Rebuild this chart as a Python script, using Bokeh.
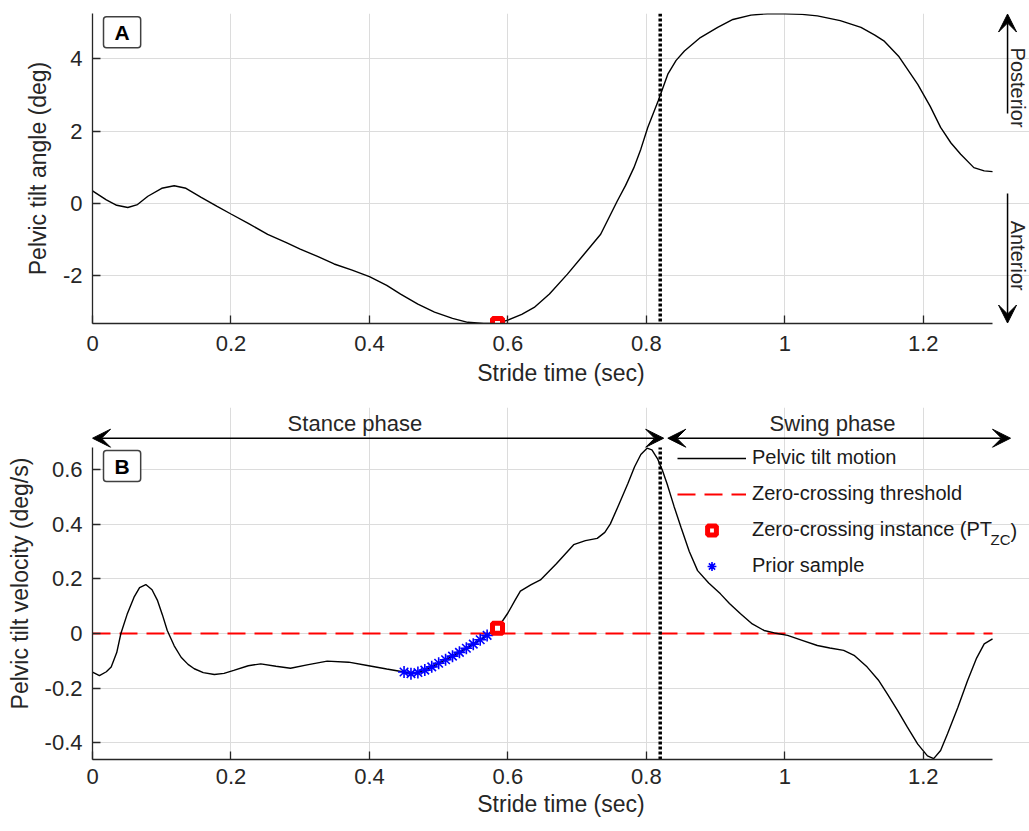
from bokeh.plotting import figure
from bokeh.layouts import column
from bokeh.models import (FixedTicker, NumeralTickFormatter, Span, Label, Arrow,
                          VeeHead, Legend, LegendItem)
from bokeh.embed import file_html
from bokeh.resources import INLINE
import math

FONT = "Liberation Sans"
AX = "#262626"
GRID = "#dcdcdc"

# ---------------- data ----------------
x_ticks = [0, 0.2, 0.4, 0.6, 0.8, 1.0, 1.2]
angle_ticks = [-2, 0, 2, 4]
vel_ticks = [-0.4, -0.2, 0, 0.2, 0.4, 0.6]
x_limits = [0.0, 1.3]
angle_limits = [-3.313, 5.245]
vel_limits = [-0.4611, 0.6805]

angle_t = [0.000, 0.020, 0.035, 0.051, 0.065, 0.080, 0.100, 0.118, 0.135, 0.157,
           0.180, 0.200, 0.225, 0.253, 0.280, 0.300, 0.325, 0.349, 0.375, 0.400,
           0.425, 0.445, 0.470, 0.494, 0.520, 0.542, 0.565, 0.583, 0.600, 0.620,
           0.638, 0.660, 0.686, 0.710, 0.734, 0.758, 0.770, 0.782, 0.792, 0.802,
           0.817, 0.831, 0.843, 0.855, 0.878, 0.903, 0.925, 0.951, 0.975, 1.000,
           1.025, 1.047, 1.080, 1.110, 1.130, 1.143, 1.165, 1.192, 1.210, 1.225,
           1.240, 1.254, 1.273, 1.288, 1.300]
angle_deg = [0.35, 0.10, -0.05, -0.11, -0.03, 0.20, 0.42, 0.49, 0.42, 0.17,
             -0.08, -0.29, -0.55, -0.85, -1.08, -1.26, -1.46, -1.67, -1.84, -2.02,
             -2.26, -2.50, -2.78, -3.00, -3.17, -3.28, -3.31, -3.31, -3.22, -3.06,
             -2.87, -2.50, -1.95, -1.40, -0.85, 0.07, 0.50, 0.99, 1.50, 2.10,
             2.83, 3.57, 3.95, 4.21, 4.58, 4.86, 5.08, 5.20, 5.24, 5.24,
             5.22, 5.18, 5.05, 4.86, 4.65, 4.49, 4.05, 3.29, 2.68, 2.10,
             1.67, 1.36, 0.99, 0.90, 0.88]

vel_t = [0.000, 0.010, 0.020, 0.027, 0.035, 0.041, 0.050, 0.060, 0.068, 0.077,
         0.086, 0.094, 0.101, 0.108, 0.118, 0.128, 0.138, 0.147, 0.160, 0.176,
         0.190, 0.204, 0.225, 0.243, 0.265, 0.286, 0.310, 0.339, 0.370, 0.397,
         0.425, 0.450, 0.460, 0.470, 0.480, 0.490, 0.500, 0.510, 0.520, 0.530,
         0.540, 0.550, 0.560, 0.570, 0.585, 0.600, 0.610, 0.618, 0.633, 0.647,
         0.670, 0.695, 0.712, 0.729, 0.740, 0.748, 0.760, 0.773, 0.783, 0.792,
         0.801, 0.808, 0.816, 0.823, 0.830, 0.840, 0.850, 0.862, 0.874, 0.890,
         0.907, 0.920, 0.936, 0.953, 0.970, 0.985, 1.004, 1.025, 1.047, 1.065,
         1.085, 1.100, 1.119, 1.135, 1.148, 1.163, 1.177, 1.192, 1.206, 1.215,
         1.225, 1.235, 1.250, 1.264, 1.277, 1.288, 1.300]
vel_dps = [-0.141, -0.154, -0.140, -0.123, -0.070, 0.000, 0.070, 0.133, 0.168, 0.179,
           0.160, 0.120, 0.068, 0.011, -0.045, -0.087, -0.113, -0.129, -0.143, -0.150,
           -0.146, -0.135, -0.118, -0.111, -0.120, -0.127, -0.115, -0.101, -0.105, -0.117,
           -0.130, -0.141, -0.147, -0.143, -0.134, -0.122, -0.109, -0.096, -0.083, -0.069,
           -0.054, -0.039, -0.023, -0.007, 0.019, 0.075, 0.120, 0.155, 0.178, 0.196,
           0.255, 0.325, 0.340, 0.348, 0.370, 0.401, 0.470, 0.547, 0.610, 0.655,
           0.678, 0.672, 0.640, 0.598, 0.547, 0.465, 0.389, 0.300, 0.230, 0.185,
           0.145, 0.110, 0.072, 0.035, 0.011, 0.002, -0.007, -0.025, -0.044, -0.053,
           -0.062, -0.080, -0.123, -0.170, -0.221, -0.282, -0.343, -0.405, -0.448, -0.458,
           -0.428, -0.367, -0.270, -0.172, -0.090, -0.038, -0.020]

prior_t = [0.450, 0.460, 0.470, 0.480, 0.490, 0.500, 0.510, 0.520, 0.530,
           0.540, 0.550, 0.560, 0.570]
prior_v = [-0.141, -0.147, -0.143, -0.134, -0.122, -0.109, -0.096, -0.083, -0.069,
           -0.054, -0.039, -0.023, -0.007]

zc_time = [0.585]
zc_angle = [-3.31]
zc_vel = [0.019]
zc_threshold = 0.0
toe_off_time = 0.82

# extra drawing room (beyond the axes) for the side / top annotations
X_VIEW_END = 1.3534       # 37 px to the right of x = 1.3
VEL_VIEW_TOP = 0.8269     # 40 px above the top of the velocity axis


def style_axes(p, yticks, ybounds):
    p.xaxis.ticker = FixedTicker(ticks=x_ticks)
    p.yaxis.ticker = FixedTicker(ticks=yticks)
    p.xgrid.ticker = FixedTicker(ticks=x_ticks)
    p.ygrid.ticker = FixedTicker(ticks=yticks)
    p.xaxis.bounds = (x_limits[0], x_limits[1])
    p.yaxis.bounds = ybounds
    p.xgrid.bounds = ybounds
    p.ygrid.bounds = (x_limits[0], x_limits[1])
    p.grid.grid_line_color = GRID
    p.grid.grid_line_width = 1
    p.outline_line_color = None
    p.background_fill_color = "white"
    p.border_fill_color = "white"
    for ax in list(p.xaxis) + list(p.yaxis):
        ax.formatter = NumeralTickFormatter(format="0.[0]")
        ax.major_tick_in = 8
        ax.major_tick_out = 0
        ax.minor_tick_in = 0
        ax.minor_tick_out = 0
        ax.axis_line_color = AX
        ax.axis_line_width = 1.3
        ax.major_tick_line_color = AX
        ax.major_tick_line_width = 1.3
        ax.major_label_text_font = FONT
        ax.major_label_text_font_size = "22px"
        ax.major_label_text_color = AX
        ax.axis_label_text_font = FONT
        ax.axis_label_text_font_size = "23px"
        ax.axis_label_text_font_style = "normal"
        ax.axis_label_text_color = AX
    p.yaxis.major_label_standoff = 10
    p.yaxis.axis_label_standoff = 9


def panel_label(p, text, x, y):
    p.add_layout(Label(x=x, y=y, text=text, text_font=FONT, text_font_size="21px",
                       text_font_style="bold", text_color="black",
                       text_align="left", text_baseline="top",
                       padding=dict(left=11, right=11, top=4, bottom=4),
                       background_fill_color="white", border_line_color="#404040",
                       border_line_width=1.5, border_radius=3))


def head():
    return VeeHead(size=18, fill_color="black", line_color="black", line_width=1)


# ---------------- panel A ----------------
pa = figure(width=1029, height=393, x_range=(x_limits[0], X_VIEW_END),
            y_range=tuple(angle_limits),
            output_backend="svg", toolbar_location=None,
            min_border_left=92, min_border_right=0, min_border_top=13, min_border_bottom=70)
style_axes(pa, angle_ticks, tuple(angle_limits))
pa.xaxis.major_label_standoff = 12
pa.xaxis.axis_label_standoff = 6
pa.xaxis.axis_label = "Stride time (sec)"
pa.yaxis.axis_label = "Pelvic tilt angle (deg)"

pa.line(angle_t, angle_deg, line_color="black", line_width=1.4)
pa.add_layout(Span(location=toe_off_time, dimension="height", line_color="black",
                   line_width=3.5, line_dash="3 2"))
pa.scatter(zc_time, zc_angle, marker="square", size=10, fill_color="white",
           line_color="red", line_width=5)
panel_label(pa, "A", 0.0159, 5.154)

# Posterior / Anterior arrows
pa.add_layout(Arrow(x_start=1.3217, y_start=2.485, x_end=1.3217, y_end=5.23,
                    end=head(), line_color="black", line_width=1.5))
pa.add_layout(Arrow(x_start=1.3217, y_start=0.276, x_end=1.3217, y_end=-3.30,
                    end=head(), line_color="black", line_width=1.5))
pa.add_layout(Label(x=1.3361, y=3.2, text="Posterior", angle=-math.pi / 2,
                    text_font=FONT, text_font_size="20px", text_color=AX,
                    text_align="center", text_baseline="middle"))
pa.add_layout(Label(x=1.3361, y=-1.44, text="Anterior", angle=-math.pi / 2,
                    text_font=FONT, text_font_size="20px", text_color=AX,
                    text_align="center", text_baseline="middle"))

# ---------------- panel B ----------------
pb = figure(width=1029, height=430, x_range=(x_limits[0], X_VIEW_END),
            y_range=(vel_limits[0], VEL_VIEW_TOP),
            output_backend="svg", toolbar_location=None,
            min_border_left=92, min_border_right=0, min_border_top=14, min_border_bottom=64)
style_axes(pb, vel_ticks, tuple(vel_limits))
pb.xaxis.major_label_standoff = 9
pb.xaxis.axis_label_standoff = 4
pb.xaxis.axis_label = "Stride time (sec)"
pb.yaxis.axis_label = "Pelvic tilt velocity (deg/s)"

r_thr = pb.line([x_limits[0], x_limits[1]], [zc_threshold, zc_threshold],
                line_color="#ff0000", line_width=1.8, line_dash="18 9")
r_mot = pb.line(vel_t, vel_dps, line_color="black", line_width=1.4)
r_pri = pb.scatter(prior_t, prior_v, marker="asterisk", size=12,
                   line_color="#0000ff", line_width=1.6)
r_zc = pb.scatter(zc_time, zc_vel, marker="square", size=10, fill_color="white",
                  line_color="red", line_width=5)
pb.segment(x0=[toe_off_time], y0=[vel_limits[0]], x1=[toe_off_time], y1=[vel_limits[1]],
           line_color="black", line_width=3.5, line_dash="3 2")
panel_label(pb, "B", 0.0159, 0.6695)

legend = Legend(items=[
    LegendItem(label="Pelvic tilt motion", renderers=[r_mot]),
    LegendItem(label="Zero-crossing threshold", renderers=[r_thr]),
    LegendItem(label="Zero-crossing instance (PT", renderers=[r_zc]),
    LegendItem(label="Prior sample", renderers=[r_pri]),
], location=(585, 182), padding=0, margin=0, spacing=13, glyph_width=69,
    glyph_height=22, label_height=22, label_standoff=6,
    background_fill_alpha=0, border_line_color=None,
    label_text_font=FONT, label_text_font_size="20px", label_text_color="#1a1a1a")
pb.add_layout(legend)
pb.add_layout(Label(x=1.2971, y=0.3439, text="ZC", text_font=FONT, text_font_size="15px",
                    text_color="#1a1a1a", text_align="left", text_baseline="middle"))
pb.add_layout(Label(x=1.3260, y=0.3732, text=")", text_font=FONT, text_font_size="20px",
                    text_color="#1a1a1a", text_align="left", text_baseline="middle"))

# phase arrows
pb.add_layout(Arrow(x_start=0.0, y_start=0.7145, x_end=0.825, y_end=0.7145,
                    start=head(), end=head(), line_color="black", line_width=1.5))
pb.add_layout(Arrow(x_start=0.831, y_start=0.7145, x_end=1.326, y_end=0.7145,
                    start=head(), end=head(), line_color="black", line_width=1.5))
pb.add_layout(Label(x=0.379, y=0.7683, text="Stance phase", text_font=FONT,
                    text_font_size="22px", text_color=AX,
                    text_align="center", text_baseline="middle"))
pb.add_layout(Label(x=1.069, y=0.7683, text="Swing phase", text_font=FONT,
                    text_font_size="22px", text_color=AX,
                    text_align="center", text_baseline="middle"))

layout = column(pa, pb)
open("out.html", "w").write(file_html(layout, INLINE))
